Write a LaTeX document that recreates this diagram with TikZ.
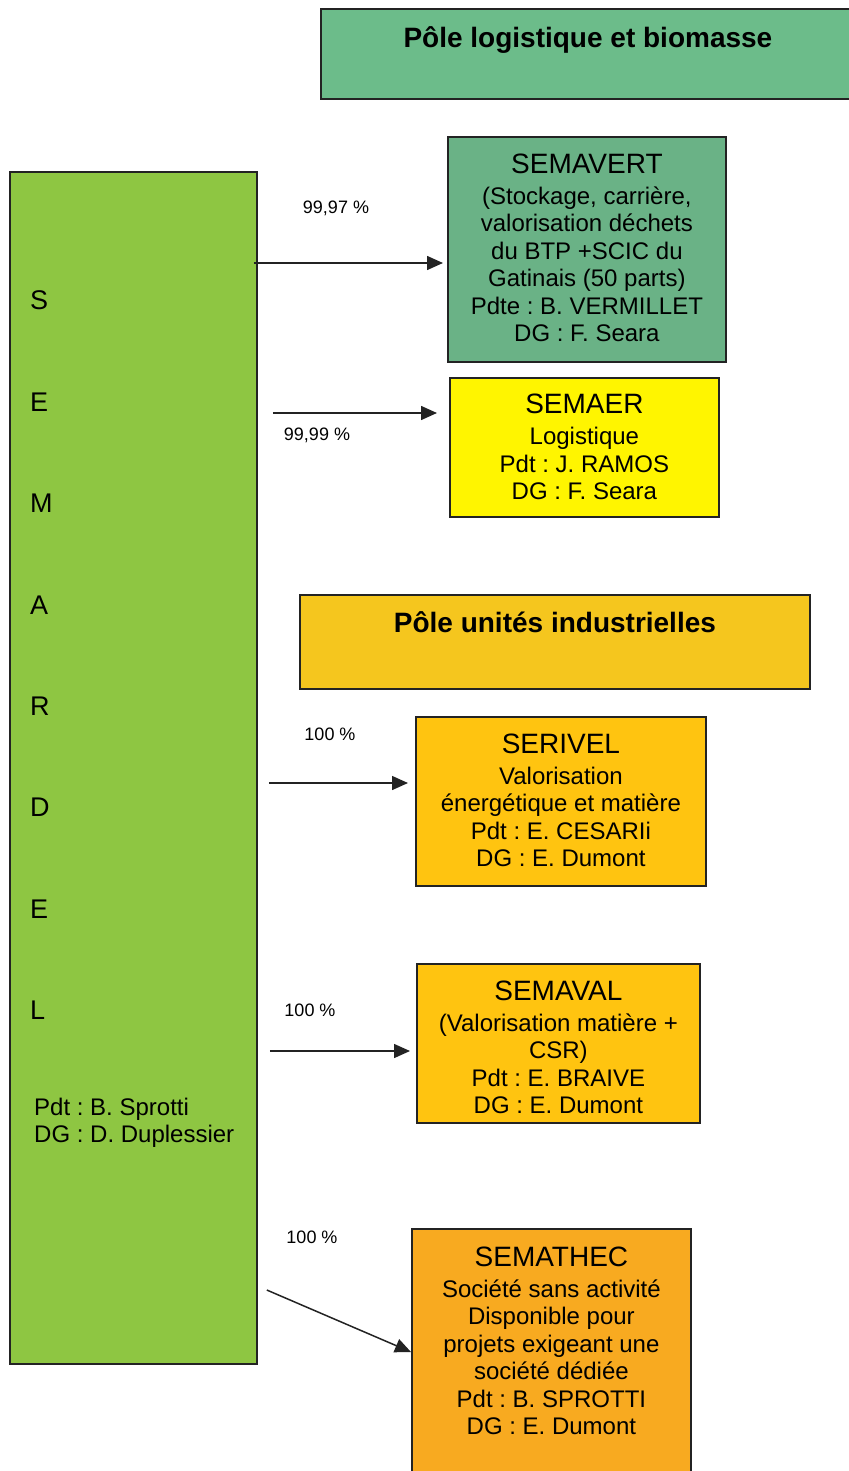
\documentclass[tikz,border=0pt]{standalone}
\usepackage{fontspec}
\setmainfont{Liberation Sans}
\usetikzlibrary{arrows.meta}
\frenchspacing
\definecolor{polegreen}{RGB}{108,188,138}
\definecolor{vertgreen}{RGB}{106,178,134}
\definecolor{semardelgreen}{RGB}{142,198,66}
\definecolor{semaeryellow}{RGB}{255,245,0}
\definecolor{poleyellow}{RGB}{245,198,30}
\definecolor{unitorange}{RGB}{255,196,16}
\definecolor{thecorange}{RGB}{248,170,32}
\definecolor{linegray}{RGB}{35,35,35}
\newcommand{\boxtitle}[1]{{\fontsize{28}{31}\selectfont #1}\\[3.5pt]}
\begin{document}
\begin{tikzpicture}[x=1pt,y=-1pt,
  boxnode/.style={draw=linegray, line width=1.8pt, inner sep=0pt, anchor=north west, align=center,
    font=\fontsize{24}{27.5}\selectfont},
  titlenode/.style={draw=linegray, line width=1.8pt, inner sep=0pt, anchor=north west, align=center,
    font=\fontsize{28}{31}\selectfont\bfseries},
  pctlabel/.style={inner sep=0pt, font=\fontsize{18}{20}\selectfont},
  letternode/.style={inner sep=0pt, anchor=base west, font=\fontsize{27}{30}\selectfont},
  linkarrow/.style={draw=linegray, line width=1.5pt, -{Triangle[length=16pt,width=14pt,fill=linegray]}},
]
\useasboundingbox (0,0) rectangle (848,1471);

% pole titles
\node[titlenode, fill=polegreen, minimum width=534pt, text height=39pt, text depth=51pt] (pole1) at (320,8) {Pôle logistique et biomasse};
\node[titlenode, fill=poleyellow, minimum width=510pt, text height=38pt, text depth=56pt] (pole2) at (299,594) {Pôle unités industrielles};

% SEMARDEL
\node[draw=linegray, line width=1.8pt, fill=semardelgreen, anchor=north west, inner sep=0pt,
  minimum width=247pt, minimum height=1192pt] (semardel) at (9,171) {};
\foreach \L/\Y [count=\i] in {S/309, E/411, M/512, A/614, R/715, D/816, E/918, L/1019}
  \node[letternode] (let\i) at (30,\Y) {\L};
\node[inner sep=0pt, anchor=base west, align=left, font=\fontsize{24}{27}\selectfont] (semardelpdt) at (34,1142)
  {Pdt : B. Sprotti\\DG : D. Duplessier};

% subsidiaries
\node[boxnode, fill=vertgreen, minimum width=278pt, text height=205pt, text depth=20pt] (semavert) at (447,136)
  {\boxtitle{SEMAVERT}(Stockage, carrière,\\valorisation déchets\\du BTP +SCIC du\\Gatinais (50 parts)\\Pdte : B. VERMILLET\\DG : F. Seara};
\node[boxnode, fill=semaeryellow, minimum width=269pt, text height=122pt, text depth=17pt] (semaer) at (449,377)
  {\boxtitle{SEMAER}Logistique\\Pdt : J. RAMOS\\DG : F. Seara};
\node[boxnode, fill=unitorange, minimum width=290pt, text height=150pt, text depth=19pt] (serivel) at (415,716)
  {\boxtitle{SERIVEL}Valorisation\\énergétique et matière\\Pdt : E. CESARIi\\DG : E. Dumont};
\node[boxnode, fill=unitorange, minimum width=283pt, text height=150pt, text depth=9pt] (semaval) at (416,963)
  {\boxtitle{SEMAVAL}(Valorisation matière +\\CSR)\\Pdt : E. BRAIVE\\DG : E. Dumont};
\node[boxnode, fill=thecorange, minimum width=279pt, text height=206pt, text depth=56pt] (semathec) at (411,1228)
  {\boxtitle{SEMATHEC}Société sans activité\\Disponible pour\\projets exigeant une\\société dédiée\\Pdt : B. SPROTTI\\DG : E. Dumont};

% connectors
\coordinate (a1) at ([xshift=-4pt]semardel.east |- 0,263);
\coordinate (a2) at ([xshift=15pt]semardel.east |- 0,413);
\coordinate (a3) at ([xshift=11pt]semardel.east |- 0,783);
\coordinate (a4) at ([xshift=12pt]semardel.east |- 0,1051);
\coordinate (a5) at ([xshift=9pt]semardel.east |- 0,1290);
\coordinate (e5) at (semathec.west |- 0,1352);
\draw[linkarrow, shorten >=4pt] (a1) -- (semavert.west |- a1);
\draw[linkarrow, shorten >=12pt] (a2) -- (semaer.west |- a2);
\draw[linkarrow, shorten >=7pt] (a3) -- (serivel.west |- a3);
\draw[linkarrow, shorten >=6pt] (a4) -- (semaval.west |- a4);
\draw[linkarrow] (a5) -- (e5);

% percentages
\node[pctlabel] (p1) at (336,208) {99,97 \%};
\node[pctlabel] (p2) at (317,435) {99,99 \%};
\node[pctlabel] (p3) at (330,734) {100 \%};
\node[pctlabel] (p4) at (310,1010) {100 \%};
\node[pctlabel] (p5) at (312,1237) {100 \%};
\end{tikzpicture}
\end{document}
